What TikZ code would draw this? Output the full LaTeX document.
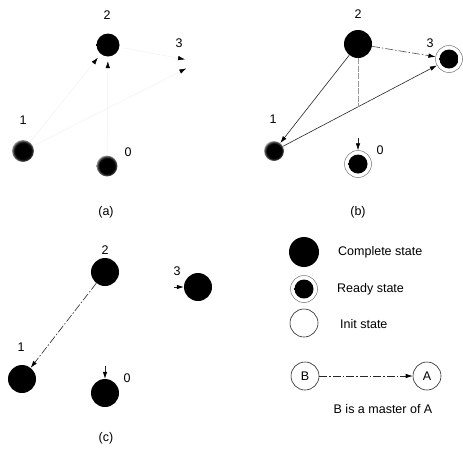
\documentclass[tikz,border=0pt]{standalone}
\usepackage{fontspec}
\setmainfont{Liberation Sans}
\usetikzlibrary{arrows.meta}
\pgfdeclareradialshading{fuzzy}{\pgfpointorigin}{color(0bp)=(black); color(18bp)=(black); color(22bp)=(black!80); color(25bp)=(black!40); color(50bp)=(white)}
\tikzset{
  lbl/.style={font=\fontsize{12.5}{14}\selectfont, inner sep=0pt},
  complete/.style={circle, fill=black, minimum size=#1, inner sep=0pt},
  fuzzy/.style={circle, shading=fuzzy, minimum size=#1, inner sep=0pt},
  ready/.style={circle, draw=black!55, line width=0.5pt, minimum size=27pt, inner sep=0pt,
     path picture={\shade[shading=fuzzy] (path picture bounding box.center) circle (9.5pt);}},
  readyfaint/.style={circle, draw=none, minimum size=#1, inner sep=0pt,
     path picture={\shade[shading=fuzzy] (path picture bounding box.center) circle (11.5pt);}},
  initst/.style={circle, draw=black!85, line width=0.6pt, minimum size=28pt, inner sep=0pt},
  hidden/.style={circle, draw=none, minimum size=#1, inner sep=0pt},
  tip/.style={-{Latex[length=7pt,width=4.5pt,color=black]}},
  conn/.style={tip, draw=black!85, line width=0.6pt},
  faint/.style={tip, draw=black!5, line width=0.5pt},
  ddot/.style={dash pattern=on 8pt off 2pt on 1.5pt off 2pt}
}
\begin{document}
\begin{tikzpicture}[x=1pt,y=-1pt]
\useasboundingbox[fill=white] (0,0) rectangle (463,448);
% ---------- (a)
\node[readyfaint=32pt] (a2) at (108,45) {};
\node[hidden=28pt] (a3) at (199,62) {};
\node[fuzzy=22pt] (a1) at (23,151) {};
\node[fuzzy=21pt] (a0) at (107,166) {};
\node[lbl] (la2) at (107,15) {2};
\node[lbl] (la3) at (179,43) {3};
\node[lbl] (la1) at (23,120) {1};
\node[lbl] (la0) at (128,152) {0};
\node[lbl] (capa) at (106,212) {(a)};
\draw[faint] (a2) -- (a3);
\draw[faint] (a1) -- (a2);
\draw[faint] (a0) -- (a2);
\draw[faint] (a1) -- (a3);
% ---------- (b)
\node[complete=28pt] (b2) at (358,44) {};
\node[ready] (b3) at (449,59) {};
\node[fuzzy=20pt] (b1) at (274,151) {};
\node[ready] (b0) at (358,164) {};
\node[lbl] (lb2) at (358,14) {2};
\node[lbl] (lb3) at (430,43) {3};
\node[lbl] (lb1) at (273,119) {1};
\node[lbl] (lb0) at (380,150) {0};
\node[lbl] (capb) at (358,212) {(b)};
\coordinate (bx) at (358,107);
\coordinate (b0in) at (358,138);
\draw[conn, ddot, draw=black!70] (b2) -- (b3);
\draw[conn] (b2) -- (b1);
\draw[conn] (b1) -- (b3);
\draw[draw=black!40, line width=0.8pt, dash pattern=on 6pt off 1.5pt] (b2) -- (bx);
\draw[conn] (b0in) -- (b0);
% ---------- (c)
\node[complete=28pt] (c2) at (105,272) {};
\node[complete=28pt] (c3) at (198,287) {};
\node[complete=28pt] (c1) at (22,379) {};
\node[complete=28pt] (c0) at (105,393) {};
\node[lbl] (lc2) at (105,250) {2};
\node[lbl] (lc3) at (177,271) {3};
\node[lbl] (lc1) at (21,347) {1};
\node[lbl] (lc0) at (127,378) {0};
\node[lbl] (capc) at (106,438) {(c)};
\coordinate (c3in) at (174,287);
\coordinate (c0in) at (105,366);
\draw[conn, ddot] (c2) -- (c1);
\draw[conn] (c3in) -- (c3);
\draw[conn] (c0in) -- (c0);
% ---------- legend
\node[complete=30pt] (lgc) at (304,252) {};
\node[ready] (lgr) at (304,289) {};
\node[initst] (lgi) at (304,323) {};
\node[lbl, anchor=west] (tc) at (338,252) {Complete state};
\node[lbl, anchor=west] (tr) at (337,289) {Ready state};
\node[lbl, anchor=west] (ti) at (340,324) {Init state};
\node[initst, lbl] (lgb) at (305,376) {B};
\node[initst, lbl] (lga) at (427,376) {A};
\draw[conn, ddot] (lgb) -- (lga);
\node[lbl] (tm) at (383,409) {B is a master of A};
\end{tikzpicture}
\end{document}
